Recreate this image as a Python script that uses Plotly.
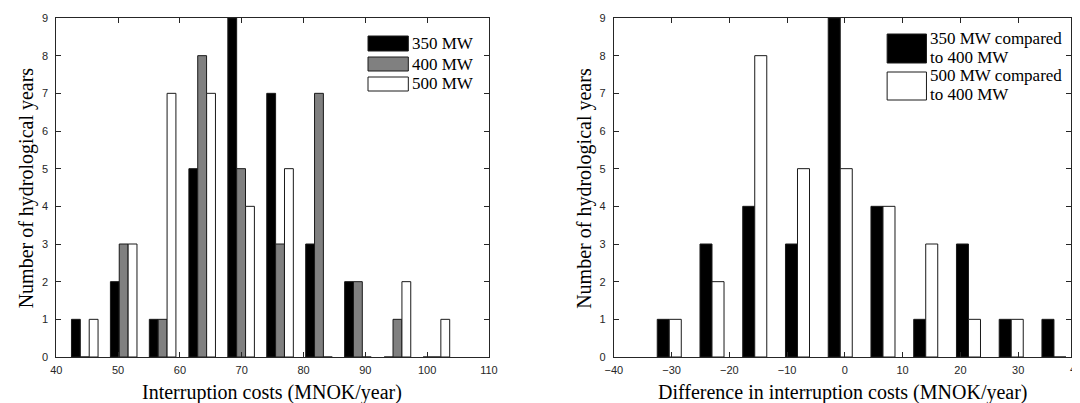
import plotly.graph_objects as go

# ---------------- data ----------------
cost_centers = [44.6, 50.9, 57.2, 63.6, 69.9, 76.2, 82.5, 88.8, 95.2, 101.5]
years_350 = [1, 2, 1, 5, 9, 7, 3, 2, 0, 0]
years_400 = [0, 3, 1, 8, 5, 3, 7, 2, 1, 0]
years_500 = [1, 3, 7, 7, 4, 5, 0, 0, 2, 1]
left_names = ["350 MW", "400 MW", "500 MW"]

diff_centers = [-30.4, -23.0, -15.6, -8.2, -0.8, 6.6, 14.0, 21.4, 28.8, 36.2]
diff_350_vs_400 = [1, 3, 4, 3, 9, 4, 1, 3, 1, 1]
diff_500_vs_400 = [1, 2, 8, 5, 5, 4, 3, 1, 1, 0]
right_names = ["350 MW compared<br>to 400 MW", "500 MW compared<br>to 400 MW"]

x_ticks_left = [40, 50, 60, 70, 80, 90, 100, 110]
x_ticks_right = [-40, -30, -20, -10, 0, 10, 20, 30, 40]
y_ticks = [0, 1, 2, 3, 4, 5, 6, 7, 8, 9]

x_title_left = "Interruption costs (MNOK/year)"
x_title_right = "Difference in interruption costs (MNOK/year)"
y_title = "Number of hydrological years"

# ---------------- layout geometry ----------------
# the page body has an 8px margin, so the figure is drawn 8px in from the window corner
OFF = 8
W, H = 1080 - OFF, 403 - OFF
PT, PB = 18 - OFF, 357 - OFF      # plot top/bottom (figure px)
L1, R1 = 48 - OFF, 488 - OFF      # left plot
L2, R2 = 615 - OFF, 1085 - OFF    # right plot (extends past the window)

def px(x_ref):
    return (x_ref - OFF) / W

def py(y_ref):
    return (PB - (y_ref - OFF)) / (PB - PT)

right_end = -40 + 80 * (W - L2) / (R2 - L2)

EDGE = "#1a1a1a"
AX = "#262626"
SERIF = "Liberation Serif"
SANS = "Liberation Sans"

fig = go.Figure()

left_series = [(years_350, "black", -2.15), (years_400, "#808080", -0.72), (years_500, "white", 0.72)]
for (vals, col, off), name in zip(left_series, left_names):
    fig.add_trace(go.Bar(x=cost_centers, y=vals, name=name, width=1.43, offset=off,
                         marker=dict(color=col, line=dict(color=EDGE, width=1)),
                         xaxis="x", yaxis="y", showlegend=False))

right_series = [(diff_350_vs_400, "black", -2.08), (diff_500_vs_400, "white", 0.0)]
for (vals, col, off), name in zip(right_series, right_names):
    fig.add_trace(go.Bar(x=diff_centers, y=vals, name=name.replace("<br>", " "), width=2.08, offset=off,
                         marker=dict(color=col, line=dict(color=EDGE, width=1)),
                         xaxis="x2", yaxis="y2", showlegend=False))

axis_common = dict(ticks="inside", ticklen=5, tickcolor=AX, linecolor=AX, linewidth=1,
                   mirror="ticks", showgrid=False, zeroline=False, showline=True,
                   tickfont=dict(family=SANS, size=11, color=AX))

fig.update_layout(
    width=W, height=H,
    margin=dict(l=0, r=0, t=PT, b=H - PB),
    paper_bgcolor="white", plot_bgcolor="white",
    barmode="overlay",
    showlegend=False,
    xaxis=dict(domain=[L1 / W, R1 / W], range=[40, 110], tickvals=x_ticks_left, anchor="y",
               ticklabelstandoff=3, **axis_common),
    yaxis=dict(domain=[0, 1], range=[0, 9], tickvals=y_ticks, anchor="x",
               ticklabelstandoff=5, **axis_common),
    xaxis2=dict(domain=[L2 / W, 1.0], range=[-40, right_end], tickvals=x_ticks_right, anchor="y2",
                ticklabelstandoff=3, **axis_common),
    yaxis2=dict(domain=[0, 1], range=[0, 9], tickvals=y_ticks, anchor="x2",
                ticklabelstandoff=5, **axis_common),
)

ann = []
# axis titles
ann.append(dict(text=x_title_left, x=px(267), y=py(392), xref="paper", yref="paper",
                xanchor="center", yanchor="middle", showarrow=False,
                font=dict(family=SERIF, size=20, color="black")))
ann.append(dict(text=x_title_right, x=px(848), y=py(392), xref="paper", yref="paper",
                xanchor="center", yanchor="middle", showarrow=False,
                font=dict(family=SERIF, size=20, color="black")))
for xc in (17.5, 584.5):
    ann.append(dict(text=y_title, x=px(xc), y=py(188), xref="paper", yref="paper",
                    xanchor="center", yanchor="middle", showarrow=False, textangle=-90,
                    font=dict(family=SERIF, size=20, color="black")))
# partially visible "40" tick label at the right edge
ann.append(dict(text="40", x=R2 / W, y=0, xref="paper", yref="paper", xanchor="center", yanchor="top",
                yshift=-4, showarrow=False, font=dict(family=SANS, size=11, color=AX)))

shapes = []
# left legend
left_rows = [(36, 51), (57, 71), (77, 91)]
for (y0, y1), (_, col, _o), name in zip(left_rows, left_series, left_names):
    shapes.append(dict(type="rect", xref="paper", yref="paper", x0=px(365), x1=px(406),
                       y0=py(y1), y1=py(y0), fillcolor=col, line=dict(color=EDGE, width=1)))
    ann.append(dict(text=name, x=px(408), y=py((y0 + y1) / 2), xref="paper", yref="paper",
                    xanchor="left", yanchor="middle", showarrow=False,
                    font=dict(family=SERIF, size=17, color="black")))
# right legend (two text lines per entry)
right_rows = [(34, 63, (38.5, 57.5)), (72, 100, (75.5, 94))]
for (y0, y1, lines_y), (_, col, _o), name in zip(right_rows, right_series, right_names):
    shapes.append(dict(type="rect", xref="paper", yref="paper", x0=px(893), x1=px(933),
                       y0=py(y1), y1=py(y0), fillcolor=col, line=dict(color=EDGE, width=1)))
    for line_text, ly in zip(name.split("<br>"), lines_y):
        ann.append(dict(text=line_text, x=px(935), y=py(ly), xref="paper", yref="paper",
                        xanchor="left", yanchor="middle", align="left", showarrow=False,
                        font=dict(family=SERIF, size=17, color="black")))

fig.update_layout(annotations=ann, shapes=shapes)

fig.write_html("out.html")
